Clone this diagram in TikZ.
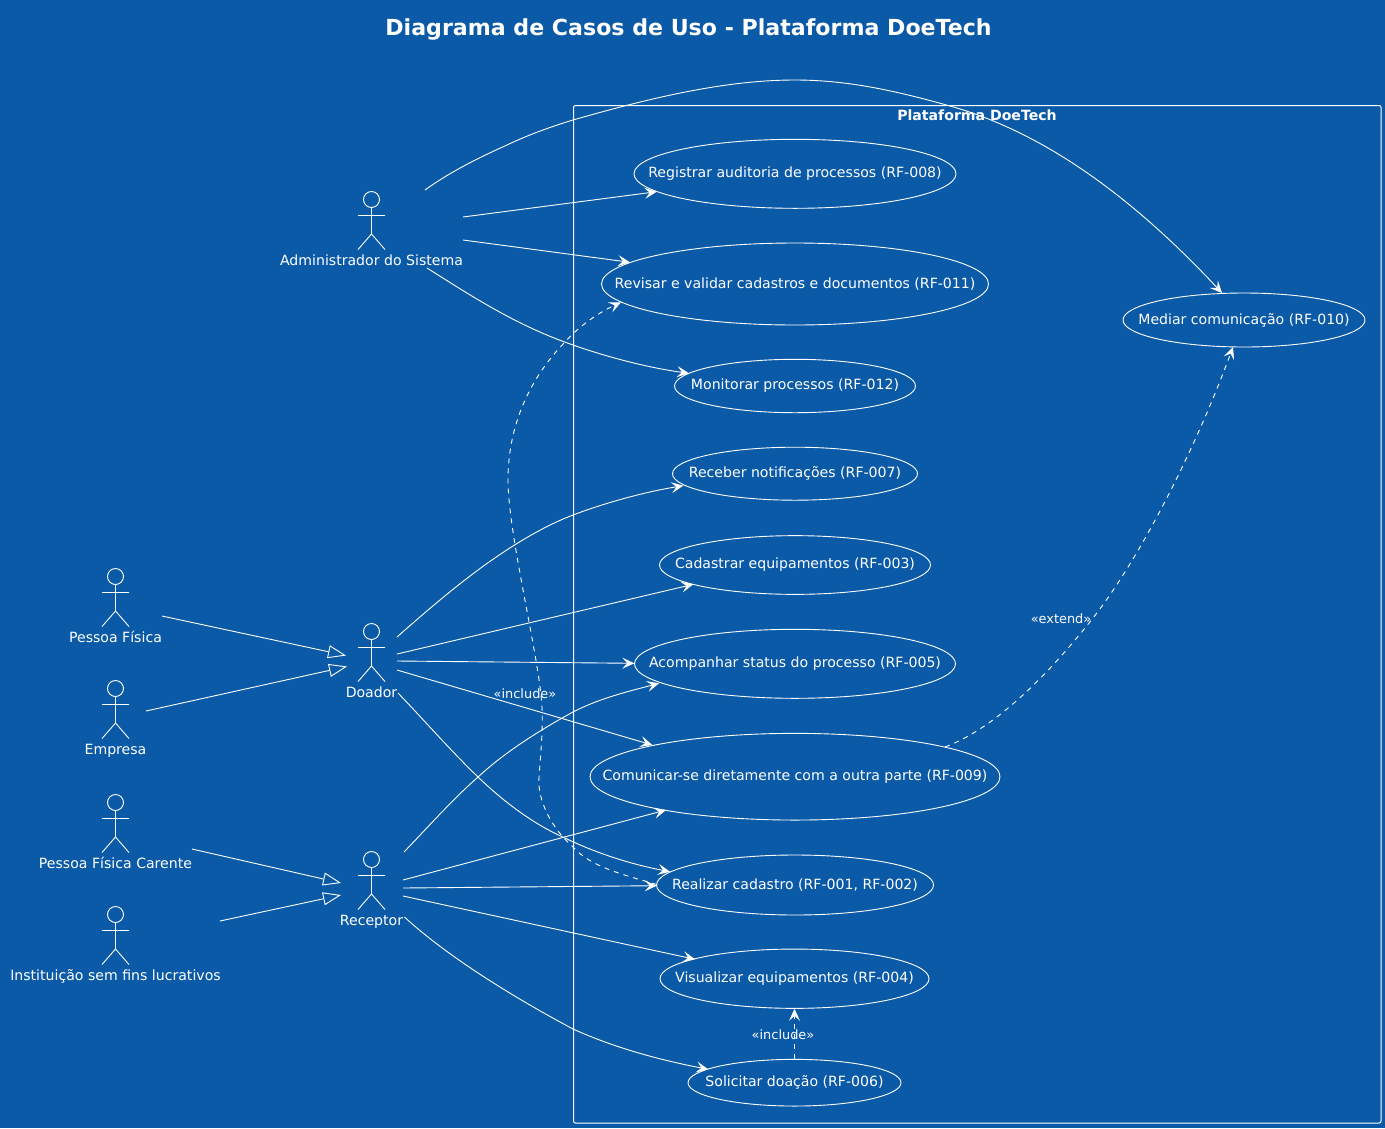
\documentclass[tikz,border=0pt]{standalone}
\usepackage{fontspec}
\setmainfont{DejaVu Sans}
\usetikzlibrary{arrows.meta,calc,shapes.geometric}
\definecolor{bgblue}{HTML}{0B5AA8}
\definecolor{ink}{HTML}{FFFFFF}
\newcommand{\uct}[1]{\makebox[0pt][c]{#1}}
\tikzset{
  every node/.style={text=ink},
  uc/.style={draw=ink,line width=0.9pt,ellipse,inner sep=0pt,font=\fontsize{14.1}{16}\selectfont},
  actorlbl/.style={inner sep=0pt,text height=12.5pt,text depth=1.5pt,font=\fontsize{14.1}{16}\selectfont},
  smalllbl/.style={inner sep=0pt,font=\fontsize{12.9}{15}\selectfont},
  stick/.style={draw=ink,line width=0.9pt},
  assoc/.style={draw=ink,line width=0.9pt,-{Stealth[length=12pt,width=11pt,inset=5pt]}},
  dep/.style={assoc,dash pattern=on 5pt off 5pt},
  gen/.style={draw=ink,line width=0.9pt,-{Triangle[open,length=18pt,width=13pt,fill=bgblue]}},
}
\newcommand{\stickfig}[1]{%
  \draw[stick] ($(#1)+(0,-60.5)$) circle (8);
  \draw[stick] ($(#1)+(0,-52.5)$) -- ($(#1)+(0,-26)$)
    ($(#1)+(-13.5,-44.5)$) -- ($(#1)+(13.5,-44.5)$)
    ($(#1)+(-13.5,-10.5)$) -- ($(#1)+(0,-26)$) -- ($(#1)+(13.5,-10.5)$);}
\begin{document}
\begin{tikzpicture}[x=1pt,y=-1pt]
\fill[bgblue] (0,0) rectangle (1385,1128);
\useasboundingbox (0,0) rectangle (1385,1128);
\node[inner sep=0pt,font=\fontsize{22.1}{26}\selectfont\bfseries] (title) at (688.5,29) {Diagrama de Casos de Uso - Plataforma DoeTech};
\draw[draw=ink,line width=1pt,rounded corners=2pt] (573.5,105.5) rectangle (1381,1123);
\node[inner sep=0pt,font=\fontsize{14.1}{16}\selectfont\bfseries] (pkg) at (977,115.5) {Plataforma DoeTech};
\node[uc,minimum width=322pt,minimum height=69pt] (uc8) at (795,173.8) {\uct{Registrar auditoria de processos (RF-008)}};
\node[uc,minimum width=387pt,minimum height=82pt] (uc11) at (795,284) {\uct{Revisar e validar cadastros e documentos (RF-011)}};
\node[uc,minimum width=241pt,minimum height=53.4pt] (uc12) at (795,386) {\uct{Monitorar processos (RF-012)}};
\node[uc,minimum width=245pt,minimum height=53pt] (uc7) at (795,473.7) {\uct{Receber notificações (RF-007)}};
\node[uc,minimum width=271pt,minimum height=58.7pt] (uc3) at (795,565) {\uct{Cadastrar equipamentos (RF-003)}};
\node[uc,minimum width=321pt,minimum height=69pt] (uc5) at (795,663.8) {\uct{Acompanhar status do processo (RF-005)}};
\node[uc,minimum width=410pt,minimum height=86.7pt] (uc9) at (795,776.7) {\uct{Comunicar-se diretamente com a outra parte (RF-009)}};
\node[uc,minimum width=277pt,minimum height=60pt] (uc1) at (795,885) {\uct{Realizar cadastro (RF-001, RF-002)}};
\node[uc,minimum width=269pt,minimum height=59.3pt] (uc4) at (794.5,978.7) {\uct{Visualizar equipamentos (RF-004)}};
\node[uc,minimum width=213pt,minimum height=46.7pt] (uc6) at (794.5,1082.7) {\uct{Solicitar doação (RF-006)}};
\node[uc,minimum width=242pt,minimum height=54pt] (uc10) at (1244,320) {\uct{Mediar comunicação (RF-010)}};
\node[actorlbl] (adm) at (371.5,260) {Administrador do Sistema};
\node[actorlbl] (dod) at (371.5,692) {Doador};
\node[actorlbl] (rec) at (371.5,920) {Receptor};
\node[actorlbl] (pf) at (115.5,637) {Pessoa Física};
\node[actorlbl] (emp) at (115.5,749) {Empresa};
\node[actorlbl] (pfc) at (115.5,863) {Pessoa Física Carente};
\node[actorlbl] (inst) at (115.5,975) {Instituição sem fins lucrativos};
\stickfig{adm}\stickfig{dod}\stickfig{rec}\stickfig{pf}\stickfig{emp}\stickfig{pfc}\stickfig{inst}
% admin
\draw[assoc] ($(adm)+(53.5,-70)$) .. controls (450,172) and (478,158) .. (507,145) .. controls (528,135) and (550,127) .. (573,120) .. controls (650,98) and (725,80) .. (795,80) .. controls (850,80) and (900,92) .. (950,106) .. controls (1050,134) and (1140,205) .. ($(uc10)+(-22,-27)$);
\draw[assoc] ($(adm)+(91.5,-43)$) -- ($(uc8)+(-138.3,17.9)$);
\draw[assoc] ($(adm)+(91.5,-20)$) -- ($(uc11)+(-165,-21.7)$);
\draw[assoc] ($(adm)+(55.5,8)$) .. controls (470,295) and (515,325) .. (573,345) .. controls (610,358) and (650,368) .. ($(uc12)+(-106,-12.7)$);
% doador
\draw[assoc] ($(dod)+(25.5,-55)$) .. controls (430,608) and (470,573) .. (513,546) .. controls (532,534) and (552,523) .. (573,515) .. controls (610,501) and (650,491) .. ($(uc7)+(-111.7,12)$);
\draw[assoc] ($(dod)+(25.5,-38)$) -- ($(uc3)+(-101.7,19.3)$);
\draw[assoc] ($(dod)+(25.5,-31)$) -- ($(uc5)+(-160.7,-0.5)$);
\draw[assoc] ($(dod)+(25.5,-22)$) -- ($(uc9)+(-142.7,-31.7)$);
\draw[assoc] ($(dod)+(26.5,1)$) .. controls (424,720) and (450,750) .. (478,777) .. controls (505,803) and (535,825) .. (565,838) .. controls (600,855) and (635,865) .. ($(uc1)+(-125,-13.3)$);
% receptor
\draw[assoc] ($(rec)+(32.5,-68)$) .. controls (430,825) and (452,800) .. (478,777) .. controls (505,752) and (540,730) .. (573,712) .. controls (600,698) and (630,691) .. ($(uc5)+(-136,19.5)$);
\draw[assoc] ($(rec)+(31.5,-40)$) -- ($(uc9)+(-129,33.3)$);
\draw[assoc] ($(rec)+(31.5,-32)$) -- ($(uc1)+(-138.3,0.7)$);
\draw[assoc] ($(rec)+(31.5,-24)$) -- ($(uc4)+(-99.5,-19.4)$);
\draw[assoc] ($(rec)+(33,-3)$) .. controls (440,950) and (500,990) .. (573,1029) .. controls (615,1048) and (660,1060) .. ($(uc6)+(-86.2,-13.4)$);
% generalisation
\draw[gen] ($(pf)+(46.5,-21)$) -- ($(dod)+(-25.5,-36.5)$);
\draw[gen] ($(emp)+(30.5,-38)$) -- ($(dod)+(-24.5,-25.5)$);
\draw[gen] ($(pfc)+(76.5,-14)$) -- ($(rec)+(-30.5,-37)$);
\draw[gen] ($(inst)+(104.5,-54)$) -- ($(rec)+(-30.5,-25)$);
% dependencies
\draw[dep] ($(uc1)+(-138,-0.5)$) .. controls (620,874) and (590,866) .. (573,847) .. controls (552,829) and (537,800) .. (539,777) .. controls (541,750) and (544,720) .. (541,695) .. controls (535,640) and (508,530) .. (508,480) .. controls (508,425) and (530,378) .. (565,342) .. controls (580,325) and (600,312) .. ($(uc11)+(-174,18.3)$);
\draw[dep] ($(uc9)+(150,-29.7)$) .. controls (990,730) and (1040,685) .. (1093,618) .. controls (1140,558) and (1195,450) .. ($(uc10)+(-11,27)$);
\draw[dep] (uc6.north) -- (uc4.south);
\node[smalllbl] (l1) at (525,694) {«include»};
\node[smalllbl] (l2) at (1061,619) {«extend»};
\node[smalllbl] (l3) at (783,1035) {«include»};
\end{tikzpicture}
\end{document}
